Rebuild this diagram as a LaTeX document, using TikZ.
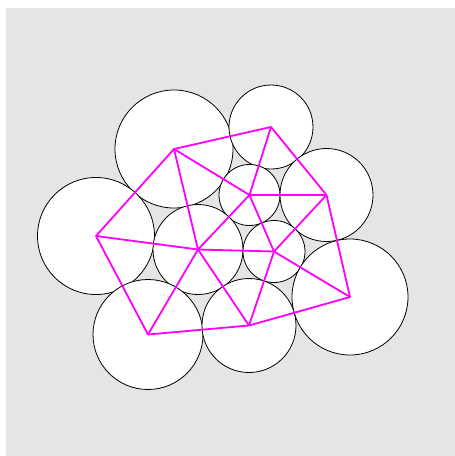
\documentclass[tikz,border=0pt]{standalone}
\usetikzlibrary{positioning}
\definecolor{packgray}{RGB}{229, 229, 229}
\definecolor{packmagenta}{RGB}{255, 0, 255}

\begin{document}
\begin{tikzpicture}[
        x=1pt, y=-1pt,
        disc/.style={circle, draw=black, fill=white, line width=0.8pt, inner sep=0pt, minimum size=#1},
        link/.style={packmagenta, line width=1.8pt, line join=round}
      ]
        \useasboundingbox (0,0) rectangle (455,456);
        \fill[packgray] (6,8) rectangle (455,456);

        % circles of the packing
        \node[disc=118pt] (c1) at (174,149) {};
        \node[disc=84pt]  (c2) at (271,127) {};
        \node[disc=117pt] (c3) at (96,236) {};
        \node[disc=61pt]  (c4) at (249.5,195) {};
        \node[disc=93pt]  (c5) at (326.5,195) {};
        \node[disc=90pt]  (c6) at (198,249.5) {};
        \node[disc=62pt]  (c7) at (274,251.5) {};
        \node[disc=116pt] (c8) at (350,297) {};
        \node[disc=110pt] (c9) at (148,334.5) {};
        \node[disc=94pt]  (c10) at (249,325.5) {};

        % outer edges
        \draw[link] (c3.center) -- (c1.center) -- (c2.center) -- (c5.center) -- (c8.center)
          -- (c10.center) -- (c9.center) -- cycle;
        % inner edges
        \draw[link] (c3.center) -- (c6.center);
        \draw[link] (c1.center) -- (c6.center);
        \draw[link] (c1.center) -- (c4.center);
        \draw[link] (c2.center) -- (c4.center);
        \draw[link] (c4.center) -- (c5.center);
        \draw[link] (c4.center) -- (c6.center);
        \draw[link] (c4.center) -- (c7.center);
        \draw[link] (c5.center) -- (c7.center);
        \draw[link] (c6.center) -- (c7.center);
        \draw[link] (c7.center) -- (c8.center);
        \draw[link] (c7.center) -- (c10.center);
        \draw[link] (c6.center) -- (c10.center);
        \draw[link] (c6.center) -- (c9.center);
      \end{tikzpicture}
\end{document}
